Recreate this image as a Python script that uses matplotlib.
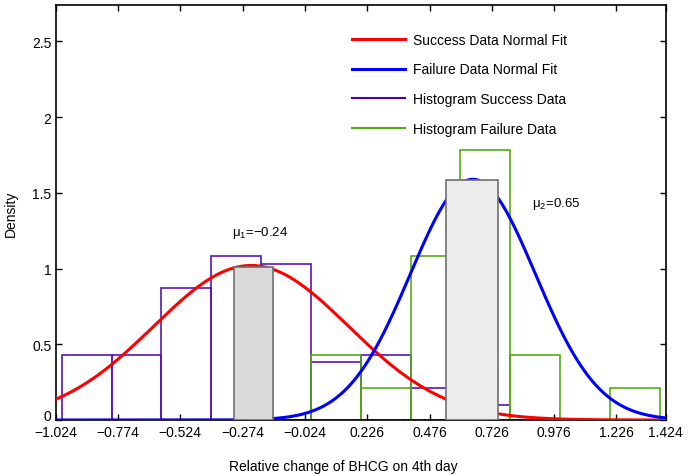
import matplotlib.pyplot as plt
import numpy as np

plt.rcParams['font.family'] = ['Liberation Sans', 'DejaVu Sans']

# histogram bins (shared edges), heights
success_edges = [-1.0, -0.8, -0.6, -0.4, -0.2, 0.0, 0.2, 0.4, 0.6, 0.8]
success_heights = [0.43, 0.43, 0.87, 1.08, 1.03, 0.385, 0.43, 0.21, 0.10]
failure_edges = [0.0, 0.2, 0.4, 0.6, 0.8, 1.0, 1.2, 1.4]
failure_heights = [0.43, 0.21, 1.08, 1.78, 0.43, 0.0, 0.21]

# normal fits
mu1, sigma1 = -0.24, 0.391
mu2, sigma2 = 0.65, 0.251

# grey cover boxes (left, right, top)
box_left = [-0.307, 0.543]
box_right = [-0.151, 0.751]
box_top = [1.007, 1.583]
box_fill = ['#d9d9d9', '#ececec']

xticks = [-1.024, -0.774, -0.524, -0.274, -0.024, 0.226, 0.476, 0.726, 0.976, 1.226, 1.424]
yticks = [0, 0.5, 1, 1.5, 2, 2.5]

fig = plt.figure(figsize=(6.94, 4.77), dpi=100)
ax = fig.add_axes([0.0803, 0.1174, 0.8790, 0.8700])

x = np.linspace(-1.024, 1.424, 300)
pdf1 = np.exp(-(x - mu1)**2 / (2 * sigma1**2)) / (sigma1 * np.sqrt(2 * np.pi))
pdf2 = np.exp(-(x - mu2)**2 / (2 * sigma2**2)) / (sigma2 * np.sqrt(2 * np.pi))

purple = '#5a14b8'
green = '#55aa14'

# histograms as outlined bars
s_left = np.array(success_edges[:-1])
s_w = np.diff(success_edges)
ax.bar(s_left, success_heights, width=s_w, align='edge', fill=False,
       edgecolor=purple, linewidth=1.2, zorder=2)
f_left = np.array(failure_edges[:-1])
f_w = np.diff(failure_edges)
ax.bar(f_left, failure_heights, width=f_w, align='edge', fill=False,
       edgecolor=green, linewidth=1.2, zorder=2)

ax.plot(x, pdf1, color='#ff0000', linewidth=2.2, zorder=3)
ax.plot(x, pdf2, color='#0000ff', linewidth=2.2, zorder=3)

# legend drawn with proxy lines
ax.plot([], [], color='#ff0000', linewidth=2.2, label='Success Data Normal Fit')
ax.plot([], [], color='#0000ff', linewidth=2.2, label='Failure Data Normal Fit')
ax.plot([], [], color='#4b00aa', linewidth=1.5, label='Histogram Success Data')
ax.plot([], [], color=green, linewidth=1.5, label='Histogram Failure Data')
handles, labels = ax.get_legend_handles_labels()
ax.legend(handles[-4:], labels[-4:], loc='upper left', bbox_to_anchor=(0.465, 0.963),
          frameon=False, fontsize=10, handlelength=3.8, labelspacing=1.12,
          handletextpad=0.6)

for l, r, t, c in zip(box_left, box_right, box_top, box_fill):
    ax.add_patch(plt.Rectangle((l, 0), r - l, t, facecolor=c,
                               edgecolor='#707070', linewidth=1.2, zorder=4))

ax.text(-0.316, 1.24, r'$\mathregular{\mu_1}$=' + '\u22120.24',
        fontsize=9.5, va='center', ha='left')
ax.text(0.888, 1.43, r'$\mathregular{\mu_2}$=0.65', fontsize=9.5, va='center', ha='left')

ax.set_xlim(-1.024, 1.424)
ax.set_ylim(0, 2.74)
ax.set_xticks(xticks)
ax.set_xticklabels([('%.3f' % v).replace('-', '\u2212') for v in xticks])
ax.set_yticks(yticks)
ax.set_yticklabels(['0', '0.5', '1', '1.5', '2', '2.5'])
ax.tick_params(direction='in', top=True, right=True, length=4, width=1,
               labelsize=10, pad=3.5)
ax.tick_params(axis='y', pad=3)
# lift the "0" so it sits above the first x label, as in the original
ax.get_yticklabels()[0].set_verticalalignment('baseline')
for s in ax.spines.values():
    s.set_linewidth(1.2)

ax.set_xlabel('Relative change of BHCG on 4th day', fontsize=10)
ax.xaxis.set_label_coords(0.471, -0.094)
ax.set_ylabel('Density', fontsize=10)
ax.yaxis.set_label_coords(-0.062, 0.5)

plt.savefig('out.png', dpi=100)
